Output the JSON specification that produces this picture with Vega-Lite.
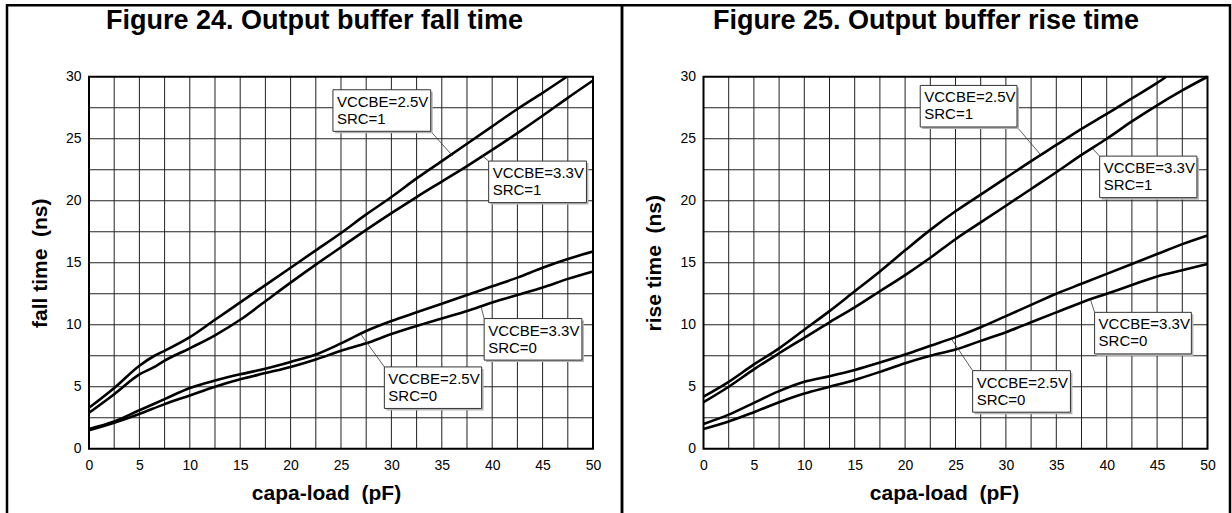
{
  "$schema": "https://vega.github.io/schema/vega-lite/v6.json",
  "description": "Output buffer fall and rise time versus capacitive load, two datasheet figures side by side.",
  "background": "white",
  "padding": {"left": 5, "top": 3.25, "right": 0, "bottom": 0},
  "spacing": 0,
  "bounds": "flush",
  "datasets": {
    "xgrid": [
      {"v": 2.5}, {"v": 5}, {"v": 7.5}, {"v": 10}, {"v": 12.5}, {"v": 15}, {"v": 17.5}, {"v": 20}, {"v": 22.5}, {"v": 25},
      {"v": 27.5}, {"v": 30}, {"v": 32.5}, {"v": 35}, {"v": 37.5}, {"v": 40}, {"v": 42.5}, {"v": 45}, {"v": 47.5}
    ],
    "ygrid": [
      {"v": 2.5}, {"v": 5}, {"v": 7.5}, {"v": 10}, {"v": 12.5}, {"v": 15}, {"v": 17.5}, {"v": 20}, {"v": 22.5}, {"v": 25}, {"v": 27.5}
    ],
    "curves": [
      {"fig": 24, "series": "2.5V SRC=1", "load": 0, "t": 3.3},
      {"fig": 24, "series": "2.5V SRC=1", "load": 2.5, "t": 4.9},
      {"fig": 24, "series": "2.5V SRC=1", "load": 5, "t": 6.7},
      {"fig": 24, "series": "2.5V SRC=1", "load": 6.5, "t": 7.5},
      {"fig": 24, "series": "2.5V SRC=1", "load": 7.5, "t": 7.9},
      {"fig": 24, "series": "2.5V SRC=1", "load": 10, "t": 9.0},
      {"fig": 24, "series": "2.5V SRC=1", "load": 12.5, "t": 10.4},
      {"fig": 24, "series": "2.5V SRC=1", "load": 15, "t": 11.8},
      {"fig": 24, "series": "2.5V SRC=1", "load": 17.5, "t": 13.2},
      {"fig": 24, "series": "2.5V SRC=1", "load": 20, "t": 14.6},
      {"fig": 24, "series": "2.5V SRC=1", "load": 22.5, "t": 16.0},
      {"fig": 24, "series": "2.5V SRC=1", "load": 25, "t": 17.4},
      {"fig": 24, "series": "2.5V SRC=1", "load": 27.5, "t": 18.9},
      {"fig": 24, "series": "2.5V SRC=1", "load": 30, "t": 20.3},
      {"fig": 24, "series": "2.5V SRC=1", "load": 32.5, "t": 21.8},
      {"fig": 24, "series": "2.5V SRC=1", "load": 35, "t": 23.2},
      {"fig": 24, "series": "2.5V SRC=1", "load": 37.5, "t": 24.6},
      {"fig": 24, "series": "2.5V SRC=1", "load": 40, "t": 26.0},
      {"fig": 24, "series": "2.5V SRC=1", "load": 42.5, "t": 27.4},
      {"fig": 24, "series": "2.5V SRC=1", "load": 45, "t": 28.7},
      {"fig": 24, "series": "2.5V SRC=1", "load": 47.4, "t": 30.0},
      {"fig": 24, "series": "3.3V SRC=1", "load": 0, "t": 2.9},
      {"fig": 24, "series": "3.3V SRC=1", "load": 2.5, "t": 4.4},
      {"fig": 24, "series": "3.3V SRC=1", "load": 5, "t": 6.0},
      {"fig": 24, "series": "3.3V SRC=1", "load": 6.5, "t": 6.6},
      {"fig": 24, "series": "3.3V SRC=1", "load": 7.5, "t": 7.1},
      {"fig": 24, "series": "3.3V SRC=1", "load": 10, "t": 8.1},
      {"fig": 24, "series": "3.3V SRC=1", "load": 12.5, "t": 9.15},
      {"fig": 24, "series": "3.3V SRC=1", "load": 15, "t": 10.4},
      {"fig": 24, "series": "3.3V SRC=1", "load": 17.5, "t": 11.9},
      {"fig": 24, "series": "3.3V SRC=1", "load": 20, "t": 13.4},
      {"fig": 24, "series": "3.3V SRC=1", "load": 22.5, "t": 14.85},
      {"fig": 24, "series": "3.3V SRC=1", "load": 25, "t": 16.25},
      {"fig": 24, "series": "3.3V SRC=1", "load": 27.5, "t": 17.65},
      {"fig": 24, "series": "3.3V SRC=1", "load": 30, "t": 19.0},
      {"fig": 24, "series": "3.3V SRC=1", "load": 32.5, "t": 20.3},
      {"fig": 24, "series": "3.3V SRC=1", "load": 35, "t": 21.55},
      {"fig": 24, "series": "3.3V SRC=1", "load": 37.5, "t": 22.8},
      {"fig": 24, "series": "3.3V SRC=1", "load": 40, "t": 24.1},
      {"fig": 24, "series": "3.3V SRC=1", "load": 42.5, "t": 25.45},
      {"fig": 24, "series": "3.3V SRC=1", "load": 45, "t": 26.85},
      {"fig": 24, "series": "3.3V SRC=1", "load": 47.5, "t": 28.3},
      {"fig": 24, "series": "3.3V SRC=1", "load": 50, "t": 29.7},
      {"fig": 24, "series": "2.5V SRC=0", "load": 0, "t": 1.6},
      {"fig": 24, "series": "2.5V SRC=0", "load": 2.5, "t": 2.2},
      {"fig": 24, "series": "2.5V SRC=0", "load": 5, "t": 3.1},
      {"fig": 24, "series": "2.5V SRC=0", "load": 7.5, "t": 4.0},
      {"fig": 24, "series": "2.5V SRC=0", "load": 10, "t": 4.9},
      {"fig": 24, "series": "2.5V SRC=0", "load": 12.5, "t": 5.5},
      {"fig": 24, "series": "2.5V SRC=0", "load": 15, "t": 6.0},
      {"fig": 24, "series": "2.5V SRC=0", "load": 17.5, "t": 6.45},
      {"fig": 24, "series": "2.5V SRC=0", "load": 20, "t": 7.0},
      {"fig": 24, "series": "2.5V SRC=0", "load": 22.5, "t": 7.6},
      {"fig": 24, "series": "2.5V SRC=0", "load": 25, "t": 8.5},
      {"fig": 24, "series": "2.5V SRC=0", "load": 27.5, "t": 9.5},
      {"fig": 24, "series": "2.5V SRC=0", "load": 30, "t": 10.3},
      {"fig": 24, "series": "2.5V SRC=0", "load": 32.5, "t": 11.0},
      {"fig": 24, "series": "2.5V SRC=0", "load": 35, "t": 11.7},
      {"fig": 24, "series": "2.5V SRC=0", "load": 37.5, "t": 12.4},
      {"fig": 24, "series": "2.5V SRC=0", "load": 40, "t": 13.1},
      {"fig": 24, "series": "2.5V SRC=0", "load": 42.5, "t": 13.8},
      {"fig": 24, "series": "2.5V SRC=0", "load": 45, "t": 14.6},
      {"fig": 24, "series": "2.5V SRC=0", "load": 47.5, "t": 15.3},
      {"fig": 24, "series": "2.5V SRC=0", "load": 50, "t": 15.9},
      {"fig": 24, "series": "3.3V SRC=0", "load": 0, "t": 1.5},
      {"fig": 24, "series": "3.3V SRC=0", "load": 2.5, "t": 2.1},
      {"fig": 24, "series": "3.3V SRC=0", "load": 5, "t": 2.8},
      {"fig": 24, "series": "3.3V SRC=0", "load": 7.5, "t": 3.6},
      {"fig": 24, "series": "3.3V SRC=0", "load": 10, "t": 4.3},
      {"fig": 24, "series": "3.3V SRC=0", "load": 12.5, "t": 5.0},
      {"fig": 24, "series": "3.3V SRC=0", "load": 15, "t": 5.6},
      {"fig": 24, "series": "3.3V SRC=0", "load": 17.5, "t": 6.1},
      {"fig": 24, "series": "3.3V SRC=0", "load": 20, "t": 6.6},
      {"fig": 24, "series": "3.3V SRC=0", "load": 22.5, "t": 7.2},
      {"fig": 24, "series": "3.3V SRC=0", "load": 25, "t": 7.9},
      {"fig": 24, "series": "3.3V SRC=0", "load": 27.5, "t": 8.5},
      {"fig": 24, "series": "3.3V SRC=0", "load": 30, "t": 9.25},
      {"fig": 24, "series": "3.3V SRC=0", "load": 32.5, "t": 9.9},
      {"fig": 24, "series": "3.3V SRC=0", "load": 35, "t": 10.5},
      {"fig": 24, "series": "3.3V SRC=0", "load": 37.5, "t": 11.1},
      {"fig": 24, "series": "3.3V SRC=0", "load": 40, "t": 11.8},
      {"fig": 24, "series": "3.3V SRC=0", "load": 42.5, "t": 12.4},
      {"fig": 24, "series": "3.3V SRC=0", "load": 45, "t": 13.0},
      {"fig": 24, "series": "3.3V SRC=0", "load": 47.5, "t": 13.7},
      {"fig": 24, "series": "3.3V SRC=0", "load": 50, "t": 14.3},
      {"fig": 25, "series": "2.5V SRC=1", "load": 0, "t": 4.2},
      {"fig": 25, "series": "2.5V SRC=1", "load": 2.5, "t": 5.4},
      {"fig": 25, "series": "2.5V SRC=1", "load": 5, "t": 6.8},
      {"fig": 25, "series": "2.5V SRC=1", "load": 7.5, "t": 8.1},
      {"fig": 25, "series": "2.5V SRC=1", "load": 10, "t": 9.6},
      {"fig": 25, "series": "2.5V SRC=1", "load": 12.5, "t": 11.1},
      {"fig": 25, "series": "2.5V SRC=1", "load": 15, "t": 12.7},
      {"fig": 25, "series": "2.5V SRC=1", "load": 17.5, "t": 14.3},
      {"fig": 25, "series": "2.5V SRC=1", "load": 20, "t": 16.0},
      {"fig": 25, "series": "2.5V SRC=1", "load": 22.5, "t": 17.65},
      {"fig": 25, "series": "2.5V SRC=1", "load": 25, "t": 19.15},
      {"fig": 25, "series": "2.5V SRC=1", "load": 27.5, "t": 20.5},
      {"fig": 25, "series": "2.5V SRC=1", "load": 30, "t": 21.85},
      {"fig": 25, "series": "2.5V SRC=1", "load": 32.5, "t": 23.2},
      {"fig": 25, "series": "2.5V SRC=1", "load": 35, "t": 24.5},
      {"fig": 25, "series": "2.5V SRC=1", "load": 37.5, "t": 25.8},
      {"fig": 25, "series": "2.5V SRC=1", "load": 40, "t": 27.0},
      {"fig": 25, "series": "2.5V SRC=1", "load": 42.5, "t": 28.25},
      {"fig": 25, "series": "2.5V SRC=1", "load": 45, "t": 29.5},
      {"fig": 25, "series": "2.5V SRC=1", "load": 45.9, "t": 30.0},
      {"fig": 25, "series": "3.3V SRC=1", "load": 0, "t": 3.75},
      {"fig": 25, "series": "3.3V SRC=1", "load": 2.5, "t": 5.0},
      {"fig": 25, "series": "3.3V SRC=1", "load": 5, "t": 6.4},
      {"fig": 25, "series": "3.3V SRC=1", "load": 7.5, "t": 7.7},
      {"fig": 25, "series": "3.3V SRC=1", "load": 10, "t": 8.95},
      {"fig": 25, "series": "3.3V SRC=1", "load": 12.5, "t": 10.2},
      {"fig": 25, "series": "3.3V SRC=1", "load": 15, "t": 11.4},
      {"fig": 25, "series": "3.3V SRC=1", "load": 17.5, "t": 12.7},
      {"fig": 25, "series": "3.3V SRC=1", "load": 20, "t": 14.0},
      {"fig": 25, "series": "3.3V SRC=1", "load": 22.5, "t": 15.4},
      {"fig": 25, "series": "3.3V SRC=1", "load": 25, "t": 16.9},
      {"fig": 25, "series": "3.3V SRC=1", "load": 27.5, "t": 18.25},
      {"fig": 25, "series": "3.3V SRC=1", "load": 30, "t": 19.6},
      {"fig": 25, "series": "3.3V SRC=1", "load": 32.5, "t": 20.95},
      {"fig": 25, "series": "3.3V SRC=1", "load": 35, "t": 22.3},
      {"fig": 25, "series": "3.3V SRC=1", "load": 37.5, "t": 23.7},
      {"fig": 25, "series": "3.3V SRC=1", "load": 40, "t": 25.0},
      {"fig": 25, "series": "3.3V SRC=1", "load": 42.5, "t": 26.4},
      {"fig": 25, "series": "3.3V SRC=1", "load": 45, "t": 27.7},
      {"fig": 25, "series": "3.3V SRC=1", "load": 47.5, "t": 28.9},
      {"fig": 25, "series": "3.3V SRC=1", "load": 50, "t": 30.0},
      {"fig": 25, "series": "2.5V SRC=0", "load": 0, "t": 2.0},
      {"fig": 25, "series": "2.5V SRC=0", "load": 2.5, "t": 2.75},
      {"fig": 25, "series": "2.5V SRC=0", "load": 5, "t": 3.7},
      {"fig": 25, "series": "2.5V SRC=0", "load": 7.5, "t": 4.65},
      {"fig": 25, "series": "2.5V SRC=0", "load": 10, "t": 5.4},
      {"fig": 25, "series": "2.5V SRC=0", "load": 12.5, "t": 5.85},
      {"fig": 25, "series": "2.5V SRC=0", "load": 15, "t": 6.35},
      {"fig": 25, "series": "2.5V SRC=0", "load": 17.5, "t": 6.95},
      {"fig": 25, "series": "2.5V SRC=0", "load": 20, "t": 7.6},
      {"fig": 25, "series": "2.5V SRC=0", "load": 22.5, "t": 8.3},
      {"fig": 25, "series": "2.5V SRC=0", "load": 25, "t": 9.0},
      {"fig": 25, "series": "2.5V SRC=0", "load": 27.5, "t": 9.8},
      {"fig": 25, "series": "2.5V SRC=0", "load": 30, "t": 10.7},
      {"fig": 25, "series": "2.5V SRC=0", "load": 32.5, "t": 11.6},
      {"fig": 25, "series": "2.5V SRC=0", "load": 35, "t": 12.5},
      {"fig": 25, "series": "2.5V SRC=0", "load": 37.5, "t": 13.3},
      {"fig": 25, "series": "2.5V SRC=0", "load": 40, "t": 14.1},
      {"fig": 25, "series": "2.5V SRC=0", "load": 42.5, "t": 14.9},
      {"fig": 25, "series": "2.5V SRC=0", "load": 45, "t": 15.7},
      {"fig": 25, "series": "2.5V SRC=0", "load": 47.5, "t": 16.5},
      {"fig": 25, "series": "2.5V SRC=0", "load": 50, "t": 17.2},
      {"fig": 25, "series": "3.3V SRC=0", "load": 0, "t": 1.6},
      {"fig": 25, "series": "3.3V SRC=0", "load": 2.5, "t": 2.2},
      {"fig": 25, "series": "3.3V SRC=0", "load": 5, "t": 2.95},
      {"fig": 25, "series": "3.3V SRC=0", "load": 7.5, "t": 3.75},
      {"fig": 25, "series": "3.3V SRC=0", "load": 10, "t": 4.45},
      {"fig": 25, "series": "3.3V SRC=0", "load": 12.5, "t": 5.0},
      {"fig": 25, "series": "3.3V SRC=0", "load": 15, "t": 5.55},
      {"fig": 25, "series": "3.3V SRC=0", "load": 17.5, "t": 6.2},
      {"fig": 25, "series": "3.3V SRC=0", "load": 20, "t": 6.9},
      {"fig": 25, "series": "3.3V SRC=0", "load": 22.5, "t": 7.5},
      {"fig": 25, "series": "3.3V SRC=0", "load": 25, "t": 8.0},
      {"fig": 25, "series": "3.3V SRC=0", "load": 27.5, "t": 8.7},
      {"fig": 25, "series": "3.3V SRC=0", "load": 30, "t": 9.4},
      {"fig": 25, "series": "3.3V SRC=0", "load": 32.5, "t": 10.2},
      {"fig": 25, "series": "3.3V SRC=0", "load": 35, "t": 11.0},
      {"fig": 25, "series": "3.3V SRC=0", "load": 37.5, "t": 11.8},
      {"fig": 25, "series": "3.3V SRC=0", "load": 40, "t": 12.5},
      {"fig": 25, "series": "3.3V SRC=0", "load": 42.5, "t": 13.2},
      {"fig": 25, "series": "3.3V SRC=0", "load": 45, "t": 13.9},
      {"fig": 25, "series": "3.3V SRC=0", "load": 47.5, "t": 14.4},
      {"fig": 25, "series": "3.3V SRC=0", "load": 50, "t": 14.9}
    ],
    "notes": [
      {"fig": 24, "label": "VCCBE=2.5V\nSRC=1", "x1": 24.2, "x2": 33.9, "y1": 28.95, "y2": 25.6, "ax": 33.9, "ay": 25.6, "lx": 36.1, "ly": 23.6},
      {"fig": 24, "label": "VCCBE=3.3V\nSRC=1", "x1": 39.65, "x2": 49.35, "y1": 23.2, "y2": 19.85, "ax": 39.65, "ay": 23.2, "lx": 38.9, "ly": 23.7},
      {"fig": 24, "label": "VCCBE=3.3V\nSRC=0", "x1": 39.2, "x2": 48.9, "y1": 10.5, "y2": 7.15, "ax": 39.2, "ay": 10.5, "lx": 38.9, "ly": 11.45},
      {"fig": 24, "label": "VCCBE=2.5V\nSRC=0", "x1": 29.3, "x2": 38.95, "y1": 6.6, "y2": 3.25, "ax": 29.3, "ay": 6.6, "lx": 26.95, "ly": 9.25},
      {"fig": 25, "label": "VCCBE=2.5V\nSRC=1", "x1": 21.5, "x2": 31.1, "y1": 29.3, "y2": 25.95, "ax": 31.1, "ay": 25.95, "lx": 33.4, "ly": 23.75},
      {"fig": 25, "label": "VCCBE=3.3V\nSRC=1", "x1": 39.3, "x2": 48.95, "y1": 23.6, "y2": 20.25, "ax": 39.3, "ay": 23.6, "lx": 38.6, "ly": 24.2},
      {"fig": 25, "label": "VCCBE=3.3V\nSRC=0", "x1": 38.8, "x2": 48.4, "y1": 11.0, "y2": 7.65, "ax": 38.8, "ay": 11.0, "lx": 38.4, "ly": 12.0},
      {"fig": 25, "label": "VCCBE=2.5V\nSRC=0", "x1": 26.7, "x2": 36.4, "y1": 6.3, "y2": 2.95, "ax": 26.7, "ay": 6.3, "lx": 24.6, "ly": 8.85}
    ]
  },
  "hconcat": [
    {
      "width": 615,
      "height": 540,
      "title": {"text": "Figure 24. Output buffer fall time", "offset": -29.5},
      "layer": [
        {
          "data": {"name": "xgrid"},
          "mark": {"type": "rule", "stroke": "#222", "strokeWidth": 1},
          "encoding": {
            "x": {
              "field": "v", "type": "quantitative",
              "scale": {"domain": [-8.1349, 52.877], "nice": false, "zero": false},
              "axis": {"orient": "bottom", "offset": -96.5, "values": [0, 5, 10, 15, 20, 25, 30, 35, 40, 45, 50], "title": "capa-load\u00a0\u00a0(pF)", "titleX": 319}
            },
            "y": {
              "datum": 0, "type": "quantitative",
              "scale": {"domain": [-7.782, 35.766], "nice": false, "zero": false},
              "axis": {"orient": "left", "offset": -82, "values": [0, 5, 10, 15, 20, 25, 30], "title": "fall time\u00a0\u00a0(ns)", "titleY": 257.5}
            },
            "y2": {"datum": 30}
          }
        },
        {
          "data": {"name": "ygrid"},
          "mark": {"type": "rule", "stroke": "#222", "strokeWidth": 1},
          "encoding": {
            "y": {"field": "v", "type": "quantitative"},
            "x": {"datum": 0, "type": "quantitative"},
            "x2": {"datum": 50}
          }
        },
        {
          "data": {"values": [{}]},
          "mark": {"type": "rect", "fill": null, "stroke": "black", "strokeWidth": 2},
          "encoding": {
            "x": {"datum": 0, "type": "quantitative"},
            "x2": {"datum": 50},
            "y": {"datum": 0, "type": "quantitative"},
            "y2": {"datum": 30}
          }
        },
        {
          "data": {"name": "curves"},
          "transform": [{"filter": "datum.fig == 24"}],
          "mark": {"type": "line", "stroke": "black", "strokeWidth": 2.6, "interpolate": "monotone", "clip": true},
          "encoding": {
            "x": {"field": "load", "type": "quantitative"},
            "y": {"field": "t", "type": "quantitative"},
            "detail": {"field": "series"}
          }
        },
        {
          "data": {"name": "notes"},
          "transform": [{"filter": "datum.fig == 24"}],
          "layer": [
            {
              "mark": {"type": "rule", "stroke": "#333", "strokeWidth": 0.8},
              "encoding": {
                "x": {"field": "ax", "type": "quantitative"},
                "y": {"field": "ay", "type": "quantitative"},
                "x2": {"field": "lx"},
                "y2": {"field": "ly"}
              }
            },
            {
              "mark": {"type": "rect", "fill": "#b4b4b4", "xOffset": 2, "x2Offset": 2, "yOffset": 2, "y2Offset": 2},
              "encoding": {
                "x": {"field": "x1", "type": "quantitative"},
                "x2": {"field": "x2"},
                "y": {"field": "y1", "type": "quantitative"},
                "y2": {"field": "y2"}
              }
            },
            {
              "mark": {"type": "rect", "fill": "white", "stroke": "#333", "strokeWidth": 1},
              "encoding": {
                "x": {"field": "x1", "type": "quantitative"},
                "x2": {"field": "x2"},
                "y": {"field": "y1", "type": "quantitative"},
                "y2": {"field": "y2"}
              }
            },
            {
              "mark": {"type": "text", "align": "left", "baseline": "top", "dx": 4, "dy": 5, "fontSize": 15, "lineHeight": 17, "lineBreak": "\n"},
              "encoding": {
                "x": {"field": "x1", "type": "quantitative"},
                "y": {"field": "y1", "type": "quantitative"},
                "text": {"field": "label"}
              }
            }
          ]
        }
      ]
    },
    {
      "width": 608,
      "height": 540,
      "title": {"text": "Figure 25. Output buffer rise time", "offset": -29.5},
      "layer": [
        {
          "data": {"name": "xgrid"},
          "mark": {"type": "rule", "stroke": "#222", "strokeWidth": 1},
          "encoding": {
            "x": {
              "field": "v", "type": "quantitative",
              "scale": {"domain": [-8.0853, 52.232], "nice": false, "zero": false},
              "axis": {"orient": "bottom", "offset": -96.5, "values": [0, 5, 10, 15, 20, 25, 30, 35, 40, 45, 50], "title": "capa-load\u00a0\u00a0(pF)", "titleX": 322}
            },
            "y": {
              "datum": 0, "type": "quantitative",
              "scale": {"domain": [-7.782, 35.766], "nice": false, "zero": false},
              "axis": {"orient": "left", "offset": -81.5, "values": [0, 5, 10, 15, 20, 25, 30], "title": "rise time\u00a0\u00a0(ns)", "titleY": 257.5}
            },
            "y2": {"datum": 30}
          }
        },
        {
          "data": {"name": "ygrid"},
          "mark": {"type": "rule", "stroke": "#222", "strokeWidth": 1},
          "encoding": {
            "y": {"field": "v", "type": "quantitative"},
            "x": {"datum": 0, "type": "quantitative"},
            "x2": {"datum": 50}
          }
        },
        {
          "data": {"values": [{}]},
          "mark": {"type": "rect", "fill": null, "stroke": "black", "strokeWidth": 2},
          "encoding": {
            "x": {"datum": 0, "type": "quantitative"},
            "x2": {"datum": 50},
            "y": {"datum": 0, "type": "quantitative"},
            "y2": {"datum": 30}
          }
        },
        {
          "data": {"name": "curves"},
          "transform": [{"filter": "datum.fig == 25"}],
          "mark": {"type": "line", "stroke": "black", "strokeWidth": 2.6, "interpolate": "monotone", "clip": true},
          "encoding": {
            "x": {"field": "load", "type": "quantitative"},
            "y": {"field": "t", "type": "quantitative"},
            "detail": {"field": "series"}
          }
        },
        {
          "data": {"name": "notes"},
          "transform": [{"filter": "datum.fig == 25"}],
          "layer": [
            {
              "mark": {"type": "rule", "stroke": "#333", "strokeWidth": 0.8},
              "encoding": {
                "x": {"field": "ax", "type": "quantitative"},
                "y": {"field": "ay", "type": "quantitative"},
                "x2": {"field": "lx"},
                "y2": {"field": "ly"}
              }
            },
            {
              "mark": {"type": "rect", "fill": "#b4b4b4", "xOffset": 2, "x2Offset": 2, "yOffset": 2, "y2Offset": 2},
              "encoding": {
                "x": {"field": "x1", "type": "quantitative"},
                "x2": {"field": "x2"},
                "y": {"field": "y1", "type": "quantitative"},
                "y2": {"field": "y2"}
              }
            },
            {
              "mark": {"type": "rect", "fill": "white", "stroke": "#333", "strokeWidth": 1},
              "encoding": {
                "x": {"field": "x1", "type": "quantitative"},
                "x2": {"field": "x2"},
                "y": {"field": "y1", "type": "quantitative"},
                "y2": {"field": "y2"}
              }
            },
            {
              "mark": {"type": "text", "align": "left", "baseline": "top", "dx": 4, "dy": 5, "fontSize": 15, "lineHeight": 17, "lineBreak": "\n"},
              "encoding": {
                "x": {"field": "x1", "type": "quantitative"},
                "y": {"field": "y1", "type": "quantitative"},
                "text": {"field": "label"}
              }
            }
          ]
        }
      ]
    }
  ],
  "config": {
    "font": "Liberation Sans",
    "view": {"stroke": "black", "strokeWidth": 2.5},
    "title": {"fontSize": 27, "fontWeight": "bold", "color": "black", "anchor": "middle", "frame": "group", "baseline": "alphabetic"},
    "axis": {
      "domain": false,
      "grid": false,
      "ticks": false,
      "labelFontSize": 14,
      "labelColor": "black",
      "labelPadding": 10,
      "labelOverlap": false,
      "labelFlush": false,
      "titleFontSize": 21,
      "titleFontWeight": "bold",
      "titleColor": "black",
      "titlePadding": 10
    },
    "axisY": {"labelPadding": 8, "titlePadding": 15},
    "text": {"color": "black", "font": "Liberation Sans"}
  }
}
